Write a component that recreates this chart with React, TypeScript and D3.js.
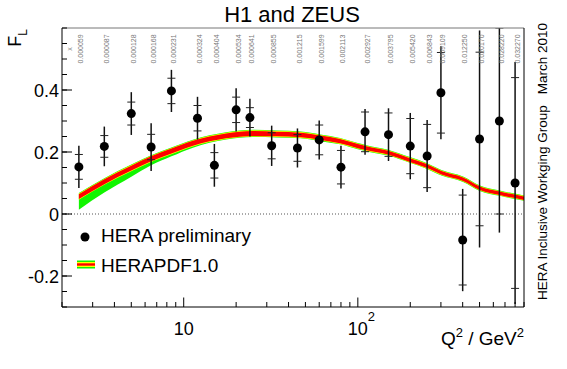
import React from 'react';
import * as d3 from 'd3';

const W = 567, H = 369;
const L = 62, R = 524, T = 28, B = 307;
const FONT = '"Liberation Sans", Arial, Helvetica, sans-serif';

// Data points
const pointQ2 = [2.5, 3.5, 5, 6.5, 8.5, 12, 15, 20, 24, 32, 45, 60, 80, 110, 150, 200, 250, 300, 400, 500, 650, 800];
const pointX = ["0.000059", "0.000087", "0.000128", "0.000168", "0.000231", "0.000324", "0.000404", "0.000534", "0.000641", "0.000855", "0.001215", "0.001599", "0.002113", "0.002927", "0.003795", "0.005420", "0.006843", "0.009109", "0.012250", "0.020170", "0.028220", "0.032270"];
const pointF = [0.152, 0.218, 0.324, 0.216, 0.397, 0.309, 0.157, 0.336, 0.311, 0.22, 0.213, 0.239, 0.151, 0.265, 0.256, 0.219, 0.187, 0.391, -0.084, 0.242, 0.3, 0.1];
const statErr = [0.04, 0.035, 0.037, 0.041, 0.041, 0.041, 0.041, 0.041, 0.032, 0.042, 0.043, 0.048, 0.054, 0.064, 0.07, 0.089, 0.102, 0.13, 0.145, 0.28, 0.3, 0.34];
const totErr = [0.068, 0.064, 0.069, 0.077, 0.068, 0.069, 0.069, 0.07, 0.061, 0.065, 0.063, 0.063, 0.069, 0.074, 0.085, 0.107, 0.116, 0.15, 0.165, 0.35, 0.36, 0.39];

// HERAPDF1.0 prediction
const curveQ2 = [2.5, 3.5, 5, 6.5, 8.5, 11.3, 17.5, 25, 34, 47, 61, 79, 100, 112, 149, 199, 248, 302, 402, 502, 653, 900];
const curveF = [0.056, 0.104, 0.148, 0.178, 0.203, 0.228, 0.252, 0.260, 0.258, 0.255, 0.246, 0.235, 0.219, 0.212, 0.198, 0.174, 0.155, 0.133, 0.112, 0.083, 0.067, 0.051];
const curveExp = [0.008, 0.008, 0.008, 0.008, 0.008, 0.008, 0.008, 0.008, 0.0075, 0.0075, 0.007, 0.007, 0.0065, 0.0065, 0.006, 0.006, 0.006, 0.0055, 0.0055, 0.0055, 0.0055, 0.0055];
const curveParLo = [0.042, 0.035, 0.028, 0.021, 0.017, 0.014, 0.012, 0.012, 0.011, 0.011, 0.011, 0.01, 0.01, 0.01, 0.0095, 0.009, 0.009, 0.009, 0.0085, 0.0085, 0.0085, 0.0085];

const yTicks = [-0.2, 0, 0.2, 0.4];
const yTickLabels = ["-0.2", "0", "0.2", "0.4"];
const xMajor = [10, 100];

export default function App() {
  const x = d3.scaleLog().domain([2, 900]).range([L, R]);
  const y = d3.scaleLinear().domain([-0.3, 0.6]).range([B, T]);

  const idx = curveQ2.map((_, i) => i);
  const band = (lo: (i: number) => number, hi: (i: number) => number) =>
    d3.area<number>()
      .x(i => x(curveQ2[i]))
      .y0(i => y(curveF[i] - lo(i)))
      .y1(i => y(curveF[i] + hi(i)))
      .curve(d3.curveMonotoneX)(idx) || '';

  const green = band(i => curveParLo[i], i => curveExp[i] + 0.0035);
  const yellow = band(i => curveExp[i] + 0.002, i => curveExp[i] + 0.002);
  const red = band(i => curveExp[i], i => curveExp[i]);

  const minorY = d3.range(-6, 13).map(k => k * 0.05);
  const minorX: number[] = [];
  [1, 10, 100].forEach(d => { for (let m = 2; m <= 9; m++) { const v = m * d; if (v >= 2 && v <= 900 && v !== 10 && v !== 100) minorX.push(v); } });

  return (
    <svg width={W} height={H} style={{ position: 'absolute', left: 0, top: 0, background: '#fff' }} fontFamily={FONT}>
      <defs>
        <clipPath id="plotclip"><rect x={L} y={T} width={R - L} height={B - T} /></clipPath>
      </defs>
      <rect x={0} y={0} width={W} height={H} fill="#fff" />
      {/* Title */}
      <text x={292} y={22} textAnchor="middle" fontSize={22}>H1 and ZEUS</text>

      {/* zero line */}
      <line x1={L} x2={R} y1={y(0)} y2={y(0)} stroke="#555" strokeDasharray="1,2" strokeWidth={1} />

      {/* bands */}
      <g clipPath="url(#plotclip)">
        <path d={green} fill="#11f500" />
        <path d={yellow} fill="#ffff00" />
        <path d={red} fill="#ff0000" />
      </g>

      {/* error bars */}
      <g clipPath="url(#plotclip)">
        {pointQ2.map((q, i) => {
          const px = x(q);
          return (
            <g key={i}>
              <line x1={px} x2={px} y1={y(pointF[i] - totErr[i])} y2={y(pointF[i] + totErr[i])} stroke="#111" strokeWidth={1.5} />
              <line x1={px - 4} x2={px + 4} y1={y(pointF[i] - statErr[i])} y2={y(pointF[i] - statErr[i])} stroke="#222" strokeWidth={1} />
              <line x1={px - 4} x2={px + 4} y1={y(pointF[i] + statErr[i])} y2={y(pointF[i] + statErr[i])} stroke="#222" strokeWidth={1} />
              <circle cx={px} cy={y(pointF[i])} r={4.5} fill="#000" />
            </g>
          );
        })}
      </g>

      {/* x labels on top */}
      <text transform={`translate(${x(2.22) + 2},49) rotate(-90)`} textAnchor="middle" fontSize={7} fill="#777">x</text>
      {pointQ2.map((q, i) => (
        <text key={i} transform={`translate(${x(q) + 4.5},49) rotate(-90)`} textAnchor="middle" fontSize={7} fill="#777">{pointX[i]}</text>
      ))}

      {/* frame */}
      <line x1={L} x2={R} y1={T} y2={T} stroke="#777" strokeWidth={1} />
      <line x1={R} x2={R} y1={T} y2={B} stroke="#000" strokeWidth={1} />
      <line x1={L} x2={L} y1={T} y2={B} stroke="#000" strokeWidth={1} />
      <line x1={L} x2={R} y1={B} y2={B} stroke="#000" strokeWidth={1} />

      {/* y ticks */}
      {minorY.map((v, i) => (
        <line key={'ym' + i} x1={L} x2={L + 5} y1={y(v)} y2={y(v)} stroke="#000" strokeWidth={1} />
      ))}
      {yTicks.map((v, i) => (
        <g key={'yt' + i}>
          <line x1={L} x2={L + 10} y1={y(v)} y2={y(v)} stroke="#000" strokeWidth={1} />
          <text x={L - 3} y={y(v) + 6.5} textAnchor="end" fontSize={18}>{yTickLabels[i]}</text>
        </g>
      ))}

      {/* x ticks */}
      {minorX.map((v, i) => (
        <line key={'xm' + i} x1={x(v)} x2={x(v)} y1={B} y2={B - 5} stroke="#000" strokeWidth={1} />
      ))}
      {xMajor.map((v, i) => (
        <line key={'xt' + i} x1={x(v)} x2={x(v)} y1={B} y2={B - 9.5} stroke="#000" strokeWidth={1} />
      ))}
      <text x={x(10)} y={335} textAnchor="middle" fontSize={18}>10</text>
      <text x={x(100) - 10} y={335} fontSize={18}>10<tspan dy={-14} fontSize={13}>2</tspan></text>

      {/* axis titles */}
      <text x={R} y={345} textAnchor="end" fontSize={19}>Q<tspan dy={-8} fontSize={13}>2</tspan><tspan dy={8}> / GeV</tspan><tspan dy={-8} fontSize={13}>2</tspan></text>
      <text transform={`translate(21,29) rotate(-90)`} textAnchor="end" fontSize={18}>F<tspan dy={6} fontSize={12}>L</tspan></text>

      {/* legend */}
      <circle cx={85} cy={237} r={4.5} fill="#000" />
      <text x={101} y={242} fontSize={19}>HERA preliminary</text>
      <rect x={77} y={260.5} width={18} height={8} fill="#11f500" />
      <rect x={77} y={262} width={18} height={5} fill="#ffff00" />
      <rect x={77} y={263.3} width={18} height={2.4} fill="#ff0000" />
      <text x={101} y={271.5} fontSize={19}>HERAPDF1.0</text>

      {/* right side text */}
      <text transform="translate(547,300) rotate(-90)" fontSize={13.5}>HERA Inclusive Workging Group</text>
      <text transform="translate(547,23) rotate(-90)" textAnchor="end" fontSize={13.5}>March 2010</text>
    </svg>
  );
}
